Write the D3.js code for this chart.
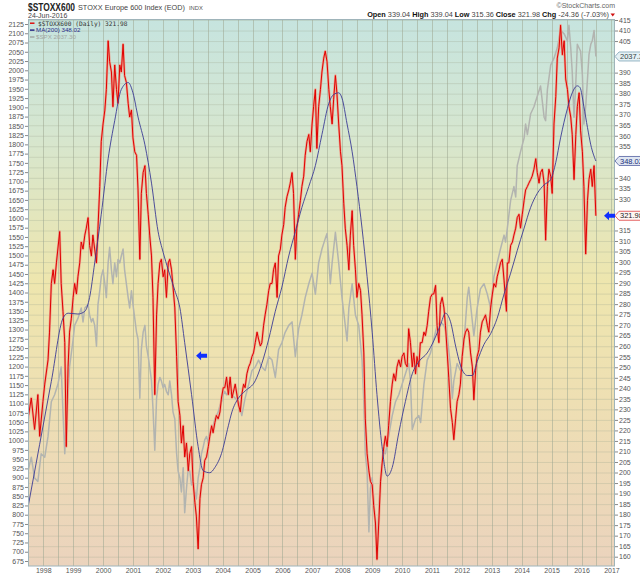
<!DOCTYPE html>
<html>
<head>
<meta charset="utf-8">
<style>
  body { margin: 0; background: #fff; }
  svg text { font-family: "Liberation Sans", Arial, sans-serif; }
</style>
</head>
<body>
<script src="https://d3js.org/d3.v7.min.js"></script>
<svg id="chart" width="640" height="576"></svg>
<script>
// $STOXX600 closes [decimal year, value] (right axis)
const stoxx = [
  [1997.49,225.5],[1997.60,235.4],[1997.71,220.5],[1997.82,237.0],[1997.88,217.2],[1997.99,233.7],[1998.05,242.0],[1998.16,253.5],
  [1998.21,266.7],[1998.27,289.8],[1998.33,296.3],[1998.38,289.8],[1998.44,299.6],[1998.55,314.5],[1998.60,289.8],[1998.66,276.6],
  [1998.72,261.7],[1998.77,212.3],[1998.83,250.2],[1998.88,266.7],[1998.94,273.3],[1999.00,283.2],[1999.05,289.8],[1999.11,284.8],
  [1999.16,293.0],[1999.22,299.6],[1999.27,309.5],[1999.33,306.2],[1999.39,312.8],[1999.44,316.1],[1999.50,321.1],[1999.55,307.9],
  [1999.61,302.9],[1999.66,312.8],[1999.72,306.2],[1999.78,299.6],[1999.83,316.1],[1999.89,335.9],[1999.94,357.3],[2000.00,365.6],
  [2000.06,372.2],[2000.11,382.0],[2000.17,405.1],[2000.22,395.2],[2000.28,390.3],[2000.33,373.8],[2000.39,393.6],[2000.45,382.0],
  [2000.50,375.4],[2000.56,393.6],[2000.61,390.3],[2000.67,403.5],[2000.72,388.6],[2000.78,385.3],[2000.84,375.4],[2000.89,368.9],
  [2000.95,372.2],[2001.00,359.0],[2001.06,352.4],[2001.12,350.7],[2001.17,334.2],[2001.23,301.3],[2001.28,332.6],[2001.34,342.5],
  [2001.40,345.8],[2001.45,332.6],[2001.51,322.7],[2001.56,312.8],[2001.62,302.9],[2001.67,283.2],[2001.73,237.0],[2001.79,274.9],
  [2001.84,289.8],[2001.90,299.6],[2001.95,301.3],[2002.01,293.0],[2002.06,296.3],[2002.12,283.2],[2002.18,299.6],[2002.23,301.3],
  [2002.29,296.3],[2002.34,288.1],[2002.40,278.2],[2002.46,255.1],[2002.51,233.7],[2002.57,227.1],[2002.62,214.0],[2002.68,222.2],
  [2002.73,207.4],[2002.79,214.0],[2002.85,200.8],[2002.90,209.0],[2002.96,212.3],[2003.01,195.8],[2003.07,185.9],[2003.12,179.3],
  [2003.18,163.7],[2003.24,187.6],[2003.29,194.2],[2003.35,197.5],[2003.40,205.7],[2003.46,207.4],[2003.52,212.3],[2003.57,217.2],
  [2003.63,222.2],[2003.68,218.9],[2003.74,223.8],[2003.79,227.1],[2003.85,225.5],[2003.91,228.8],[2003.96,235.4],[2004.02,240.3],
  [2004.07,240.3],[2004.13,245.3],[2004.19,237.0],[2004.25,245.3],[2004.31,235.4],[2004.42,242.0],[2004.53,232.1],[2004.59,228.8],
  [2004.64,237.0],[2004.70,242.0],[2004.75,240.3],[2004.81,246.9],[2004.87,250.2],[2004.92,251.8],[2004.98,255.1],[2005.03,256.8],
  [2005.09,261.7],[2005.15,266.7],[2005.20,263.4],[2005.26,260.1],[2005.31,261.7],[2005.37,270.0],[2005.42,274.9],[2005.48,279.9],
  [2005.54,286.5],[2005.59,289.8],[2005.65,289.8],[2005.70,296.3],[2005.76,299.6],[2005.82,283.2],[2005.87,302.9],[2005.93,306.2],
  [2005.98,312.8],[2006.04,317.8],[2006.09,326.0],[2006.15,331.0],[2006.21,334.2],[2006.26,337.5],[2006.32,342.5],[2006.37,332.6],
  [2006.43,301.3],[2006.48,316.1],[2006.54,322.7],[2006.60,329.3],[2006.65,335.9],[2006.71,340.8],[2006.76,350.7],[2006.82,357.3],
  [2006.88,360.6],[2006.93,352.4],[2006.99,365.6],[2007.04,373.8],[2007.10,382.0],[2007.15,354.0],[2007.21,373.8],[2007.27,382.0],
  [2007.32,390.3],[2007.38,396.9],[2007.43,400.2],[2007.49,395.2],[2007.55,382.0],[2007.60,373.8],[2007.66,365.6],[2007.71,377.1],
  [2007.77,388.6],[2007.82,380.4],[2007.88,365.6],[2007.94,352.4],[2007.99,345.8],[2008.05,327.7],[2008.10,316.1],[2008.16,307.9],
  [2008.22,296.3],[2008.27,312.8],[2008.33,324.4],[2008.38,307.9],[2008.44,296.3],[2008.49,283.2],[2008.55,289.8],[2008.61,286.5],
  [2008.66,274.9],[2008.72,256.8],[2008.77,225.5],[2008.83,209.0],[2008.89,200.8],[2008.94,195.8],[2009.00,194.2],[2009.05,184.3],
  [2009.11,176.0],[2009.16,158.7],[2009.22,176.0],[2009.28,195.8],[2009.33,204.1],[2009.39,212.3],[2009.44,217.2],[2009.50,212.3],
  [2009.55,222.2],[2009.61,233.7],[2009.67,242.0],[2009.72,246.9],[2009.78,243.6],[2009.83,250.2],[2009.89,253.5],[2009.95,250.2],
  [2010.00,255.1],[2010.06,256.8],[2010.11,251.8],[2010.17,250.2],[2010.22,268.3],[2010.28,261.7],[2010.34,250.2],[2010.39,256.8],
  [2010.45,246.9],[2010.50,255.1],[2010.56,250.2],[2010.61,261.7],[2010.67,261.7],[2010.73,266.7],[2010.78,265.0],[2010.84,270.0],
  [2010.89,276.6],[2010.95,283.2],[2011.01,284.8],[2011.06,284.8],[2011.12,288.9],[2011.17,270.0],[2011.23,261.7],[2011.28,279.9],
  [2011.34,283.2],[2011.40,278.2],[2011.45,270.0],[2011.51,256.8],[2011.56,245.3],[2011.62,230.4],[2011.68,223.8],[2011.73,215.6],
  [2011.79,225.5],[2011.84,233.7],[2011.90,237.0],[2011.95,242.0],[2012.01,255.1],[2012.07,263.4],[2012.12,266.7],[2012.18,268.3],
  [2012.23,266.7],[2012.29,256.8],[2012.35,250.2],[2012.40,234.5],[2012.46,248.6],[2012.51,255.1],[2012.57,258.4],[2012.62,266.7],
  [2012.68,271.6],[2012.74,273.3],[2012.79,274.9],[2012.85,270.0],[2012.90,266.7],[2012.96,278.2],[2013.02,284.8],[2013.07,289.8],
  [2013.13,288.1],[2013.18,293.0],[2013.24,296.3],[2013.29,299.6],[2013.35,301.3],[2013.41,291.4],[2013.49,276.6],[2013.52,299.6],
  [2013.57,299.6],[2013.63,307.9],[2013.69,309.5],[2013.74,312.8],[2013.80,316.1],[2013.85,321.1],[2013.91,322.7],[2013.96,316.1],
  [2014.02,322.7],[2014.08,329.3],[2014.13,334.2],[2014.19,335.9],[2014.24,337.5],[2014.30,339.2],[2014.35,340.8],[2014.41,344.1],
  [2014.47,349.1],[2014.52,342.5],[2014.58,337.5],[2014.63,342.5],[2014.69,344.1],[2014.75,337.5],[2014.80,310.4],[2014.86,335.9],
  [2014.91,344.1],[2014.97,340.8],[2015.02,332.6],[2015.08,365.6],[2015.14,378.7],[2015.19,396.9],[2015.25,401.8],[2015.30,412.5],
  [2015.36,398.5],[2015.42,405.1],[2015.47,387.0],[2015.53,382.0],[2015.58,373.8],[2015.64,368.9],[2015.69,360.6],[2015.75,339.2],
  [2015.81,360.6],[2015.86,373.8],[2015.92,380.4],[2015.97,362.3],[2016.03,352.4],[2016.08,335.9],[2016.14,303.8],[2016.20,329.3],
  [2016.25,339.2],[2016.31,344.1],[2016.36,335.9],[2016.42,345.8],[2016.48,321.98]
];

// MA(200) of $STOXX600 (right axis)
const ma200 = [
  [1997.49,183.5],[1997.88,213.4],[1998.27,243.3],[1998.66,273.3],[1998.83,275.7],[1999.16,275.3],[1999.39,276.6],[1999.55,283.2],
  [1999.72,299.6],[1999.94,322.7],[2000.17,349.1],[2000.39,367.2],[2000.61,382.0],[2000.84,385.3],[2001.00,380.4],[2001.17,368.9],
  [2001.40,355.7],[2001.62,337.5],[2001.84,314.5],[2002.01,304.6],[2002.18,296.3],[2002.40,286.5],[2002.57,278.2],[2002.73,261.7],
  [2002.96,237.0],[2003.18,212.3],[2003.35,200.8],[2003.57,199.9],[2003.74,202.4],[2003.96,209.0],[2004.19,222.2],[2004.31,228.8],
  [2004.53,235.4],[2004.75,238.7],[2005.09,243.6],[2005.31,251.8],[2005.54,263.4],[2005.76,276.6],[2005.98,288.1],[2006.21,302.9],
  [2006.43,314.5],[2006.65,326.0],[2006.88,335.9],[2007.10,345.8],[2007.32,360.6],[2007.55,375.4],[2007.71,379.6],[2007.88,380.4],
  [2007.99,377.9],[2008.16,365.6],[2008.33,352.4],[2008.49,335.9],[2008.66,316.1],[2008.83,293.0],[2009.00,266.7],[2009.16,237.0],
  [2009.33,212.3],[2009.50,198.3],[2009.67,202.4],[2009.89,218.9],[2010.11,233.7],[2010.34,246.9],[2010.56,252.7],[2010.84,256.8],
  [2011.06,262.6],[2011.28,270.0],[2011.45,275.7],[2011.62,271.6],[2011.79,260.1],[2011.95,251.0],[2012.18,246.1],[2012.35,246.1],
  [2012.51,252.7],[2012.74,260.9],[2012.96,265.9],[2013.18,273.3],[2013.41,284.8],[2013.63,294.7],[2013.85,305.4],[2014.08,316.1],
  [2014.30,326.0],[2014.52,332.6],[2014.75,336.7],[2014.97,339.2],[2015.14,347.4],[2015.30,359.0],[2015.53,373.0],[2015.69,380.4],
  [2015.86,383.7],[2015.95,382.9],[2016.08,373.8],[2016.20,363.9],[2016.31,355.7],[2016.48,348.02]
];

// $SPX overlay (left axis)
const spx = [
  [1997.49,917.7],[1997.60,955.2],[1997.71,899.0],[1997.82,889.6],[1997.93,964.6],[1998.05,955.2],[1998.16,1011.4],[1998.27,1105.1],
  [1998.38,1123.8],[1998.49,1152.0],[1998.60,1198.8],[1998.66,1077.0],[1998.72,964.6],[1998.77,1058.3],[1998.83,1123.8],[1998.88,1198.8],
  [1998.94,1236.3],[1999.00,1273.8],[1999.05,1311.2],[1999.16,1330.0],[1999.27,1358.1],[1999.33,1320.6],[1999.39,1358.1],[1999.50,1367.5],
  [1999.55,1339.4],[1999.61,1320.6],[1999.66,1330.0],[1999.72,1311.2],[1999.78,1255.0],[1999.83,1367.5],[1999.89,1404.9],[1999.94,1442.4],
  [2000.00,1461.2],[2000.06,1423.7],[2000.11,1386.2],[2000.17,1479.9],[2000.22,1522.1],[2000.28,1461.2],[2000.33,1423.7],[2000.39,1479.9],
  [2000.45,1442.4],[2000.50,1489.3],[2000.56,1479.9],[2000.61,1498.6],[2000.67,1517.4],[2000.72,1461.2],[2000.78,1423.7],[2000.84,1386.2],
  [2000.89,1358.1],[2000.95,1405.0],[2001.00,1367.5],[2001.06,1330.0],[2001.12,1292.5],[2001.17,1273.8],[2001.23,1114.5],[2001.28,1245.7],
  [2001.34,1292.5],[2001.40,1311.2],[2001.45,1255.0],[2001.51,1226.9],[2001.56,1198.8],[2001.62,1161.3],[2001.67,1086.4],[2001.73,973.9],
  [2001.79,1114.5],[2001.84,1152.0],[2001.90,1170.7],[2001.95,1161.3],[2002.01,1142.6],[2002.06,1152.0],[2002.12,1133.2],[2002.18,1123.8],
  [2002.23,1161.3],[2002.29,1123.8],[2002.34,1077.0],[2002.40,1058.3],[2002.46,964.6],[2002.51,917.7],[2002.57,899.0],[2002.62,861.5],
  [2002.68,927.1],[2002.73,805.3],[2002.79,870.9],[2002.85,927.1],[2002.90,917.7],[2002.96,880.3],[2003.01,889.6],[2003.07,861.5],
  [2003.12,842.7],[2003.18,899.0],[2003.24,927.1],[2003.29,964.6],[2003.35,983.3],[2003.40,1002.1],[2003.46,1011.4],[2003.52,992.7],
  [2003.57,1020.8],[2003.63,1030.1],[2003.68,1039.5],[2003.74,1058.3],[2003.79,1067.6],[2003.85,1077.0],[2003.91,1095.7],[2003.96,1105.1],
  [2004.02,1123.8],[2004.07,1133.2],[2004.13,1123.8],[2004.19,1133.2],[2004.31,1123.8],[2004.53,1105.1],[2004.64,1067.6],[2004.75,1114.5],
  [2004.87,1152.0],[2004.98,1189.4],[2005.09,1198.8],[2005.20,1217.5],[2005.31,1198.8],[2005.42,1189.4],[2005.54,1226.9],[2005.65,1217.5],
  [2005.76,1170.7],[2005.87,1245.7],[2005.98,1264.4],[2006.09,1292.5],[2006.21,1311.2],[2006.32,1320.6],[2006.43,1226.9],[2006.54,1301.9],
  [2006.65,1339.4],[2006.76,1386.2],[2006.88,1423.7],[2006.99,1451.8],[2007.10,1395.6],[2007.21,1479.9],[2007.32,1517.4],[2007.43,1545.5],
  [2007.49,1559.5],[2007.60,1423.7],[2007.66,1479.9],[2007.77,1562.4],[2007.88,1479.9],[2007.99,1386.2],[2008.10,1311.2],[2008.16,1269.1],
  [2008.22,1358.1],[2008.33,1423.7],[2008.44,1339.4],[2008.55,1311.2],[2008.66,1217.5],[2008.72,1105.1],[2008.77,964.6],[2008.83,917.7],
  [2008.89,753.7],[2008.94,870.9],[2009.00,900.0],[2009.05,840.0],[2009.11,760.0],[2009.16,683.5],[2009.22,805.3],[2009.28,889.6],
  [2009.33,917.7],[2009.39,973.9],[2009.44,964.6],[2009.55,1011.4],[2009.67,1067.6],[2009.78,1105.1],[2009.89,1123.8],[2010.00,1152.0],
  [2010.11,1180.1],[2010.22,1208.2],[2010.28,1161.3],[2010.34,1030.1],[2010.45,1058.3],[2010.56,1067.6],[2010.62,1049.0],[2010.73,1152.0],
  [2010.84,1217.5],[2010.95,1236.3],[2011.06,1273.8],[2011.17,1311.2],[2011.28,1320.6],[2011.40,1311.2],[2011.51,1283.1],[2011.62,1198.8],
  [2011.68,1114.5],[2011.73,1161.3],[2011.84,1208.2],[2011.95,1189.4],[2012.07,1264.4],[2012.18,1386.2],[2012.23,1414.3],[2012.29,1367.5],
  [2012.40,1283.1],[2012.51,1358.1],[2012.62,1409.6],[2012.74,1423.7],[2012.85,1395.6],[2012.96,1358.1],[2013.07,1442.4],[2013.18,1479.9],
  [2013.29,1517.4],[2013.41,1554.9],[2013.46,1536.1],[2013.52,1573.6],[2013.63,1648.6],[2013.74,1686.0],[2013.80,1657.9],[2013.85,1742.3],
  [2013.96,1779.7],[2014.08,1817.2],[2014.13,1854.7],[2014.19,1826.6],[2014.30,1882.8],[2014.41,1901.6],[2014.52,1929.7],[2014.63,1957.8],
  [2014.75,1873.4],[2014.80,1864.1],[2014.86,1948.4],[2014.97,2014.0],[2015.08,2032.7],[2015.19,2060.8],[2015.30,2107.7],[2015.42,2098.3],
  [2015.53,2079.6],[2015.58,2121.7],[2015.64,2060.8],[2015.69,1995.3],[2015.75,1873.4],[2015.81,1967.1],[2015.86,2070.2],[2015.97,2051.5],
  [2016.03,1985.9],[2016.08,1854.7],[2016.14,1901.6],[2016.20,1976.5],[2016.25,2042.1],[2016.31,2070.2],[2016.36,2079.6],[2016.42,2107.7],
  [2016.48,2037.30]
];

const years = [1998,1999,2000,2001,2002,2003,2004,2005,2006,2007,2008,2009,2010,2011,2012,2013,2014,2015,2016,2017];
const leftTicks = d3.range(675, 2126, 25);
const rightTicks = d3.range(160, 416, 5);
const quoteLabels = ['Open', 'High', 'Low', 'Close', 'Chg'];
const quoteValues = ['339.04', '339.04', '315.36', '321.98', '-24.36 (-7.03%)'];
const lastClose = 321.98, lastMA = 348.02, lastSPX = 2037.30;
const note = { year: 2003.11, value: 255.5 }; // hand-drawn blue arrow

const svg = d3.select('#chart');
const plot = { left: 28, right: 615, top: 19.5, bottom: 566 };

const x = d3.scaleLinear().domain([1997.49, 2017.12]).range([plot.left, plot.right]);
const yR = d3.scaleLinear().domain([160, 415]).range([556.7, 20]);
const yL = d3.scaleLinear().domain([675, 2125]).range([561, 24]);

svg.append('rect').attr('width', 640).attr('height', 576).attr('fill', '#fff');

const defs = svg.append('defs');
const grad = defs.append('linearGradient').attr('id', 'bg')
  .attr('x1', 0).attr('y1', 0).attr('x2', 0).attr('y2', 1);
[[0, '#c6e4df'], [0.2, '#d5e6d0'], [0.48, '#eee6ae'], [0.7, '#eedfb3'], [1, '#ebd3bd']]
  .forEach(([o, c]) => grad.append('stop').attr('offset', o).attr('stop-color', c));
defs.append('clipPath').attr('id', 'clip').append('rect')
  .attr('x', plot.left).attr('y', plot.top)
  .attr('width', plot.right - plot.left).attr('height', plot.bottom - plot.top);

svg.append('rect')
  .attr('x', plot.left).attr('y', plot.top)
  .attr('width', plot.right - plot.left).attr('height', plot.bottom - plot.top)
  .attr('fill', 'url(#bg)');

// grid
const grid = svg.append('g').attr('clip-path', 'url(#clip)');
grid.selectAll('line.h').data(rightTicks).enter().append('line')
  .attr('x1', plot.left).attr('x2', plot.right)
  .attr('y1', (d) => yR(d) + 0.5).attr('y2', (d) => yR(d) + 0.5)
  .attr('stroke', '#9ea892').attr('stroke-opacity', 0.3);
grid.selectAll('line.v').data(d3.range(1998, 2017.1, 0.5)).enter().append('line')
  .attr('x1', (d) => Math.round(x(d)) + 0.5).attr('x2', (d) => Math.round(x(d)) + 0.5)
  .attr('y1', plot.top).attr('y2', plot.bottom)
  .attr('stroke', '#9ea892').attr('stroke-opacity', 0.55);

// series
const series = svg.append('g').attr('clip-path', 'url(#clip)');
const lineOn = (yScale) => d3.line().x((d) => x(d[0])).y((d) => yScale(d[1]));

series.append('path').datum(spx).attr('d', lineOn(yL))
  .attr('fill', 'none').attr('stroke', '#b2b4b0').attr('stroke-width', 1.5)
  .attr('stroke-linejoin', 'round');
series.append('path').datum(stoxx).attr('d', lineOn(yR))
  .attr('fill', 'none').attr('stroke', '#ec9f8a').attr('stroke-width', 2.4)
  .attr('stroke-opacity', 0.9).attr('stroke-linejoin', 'round');
series.append('path').datum(stoxx).attr('d', lineOn(yR))
  .attr('fill', 'none').attr('stroke', '#e00000').attr('stroke-width', 1);
series.append('path').datum(ma200).attr('d', d3.line().curve(d3.curveMonotoneX).x((d) => x(d[0])).y((d) => yR(d[1])))
  .attr('fill', 'none').attr('stroke', '#3b3b95').attr('stroke-width', 0.9);

// border
svg.append('rect')
  .attr('x', plot.left + 0.5).attr('y', plot.top)
  .attr('width', plot.right - plot.left - 1).attr('height', plot.bottom - plot.top)
  .attr('fill', 'none').attr('stroke', '#9fb4ba');

// axes; right-axis labels hidden under the value tags are dropped
const tagValues = [yL(lastSPX), yR(lastMA), yR(lastClose)];
const styleAxis = (g) => {
  g.select('.domain').remove();
  g.selectAll('line').attr('stroke', '#888');
  g.attr('font-family', '"Liberation Sans", Arial, sans-serif').attr('font-size', 7);
  g.selectAll('text').attr('fill', '#555');
};
svg.append('g').attr('transform', `translate(${plot.left},0)`)
  .call(d3.axisLeft(yL).tickValues(leftTicks).tickFormat(d3.format('d')).tickSize(3).tickPadding(1))
  .call(styleAxis);
svg.append('g').attr('transform', `translate(${plot.right},0)`)
  .call(d3.axisRight(yR).tickValues(rightTicks.filter((v) => tagValues.every((ty) => Math.abs(yR(v) - ty) > 7)))
    .tickSize(3).tickPadding(1))
  .call(styleAxis);
svg.append('g').attr('transform', `translate(0,${plot.bottom})`)
  .call(d3.axisBottom(x).tickValues(years).tickFormat(d3.format('d')).tickSize(0).tickPadding(2.5))
  .call(styleAxis);

// header
svg.append('text').attr('transform', 'translate(28,10.5) scale(0.8,1)')
  .attr('font-size', 10.5).attr('font-weight', 'bold').attr('fill', '#222').text('$STOXX600');
const sub = svg.append('text').attr('x', 78).attr('y', 9.5).attr('font-size', 7.3).attr('fill', '#444')
  .text('STOXX Europe 600 Index (EOD)');
svg.append('text').attr('x', 78 + sub.node().getComputedTextLength() + 4).attr('y', 9.5)
  .attr('font-size', 5.8).attr('fill', '#555').text('INDX');
svg.append('text').attr('x', 28).attr('y', 17.5).attr('font-size', 7).attr('fill', '#444').text('24-Jun-2016');
svg.append('text').attr('x', 615).attr('y', 8).attr('text-anchor', 'end')
  .attr('font-size', 7).attr('fill', '#666').text('\u00a9StockCharts.com');

const quote = svg.append('text').attr('x', 609).attr('y', 17).attr('text-anchor', 'end').attr('font-size', 7.3);
quoteLabels.forEach((lab, i) => {
  quote.append('tspan').attr('font-weight', 'bold').attr('fill', '#111').text((i ? '  ' : '') + lab + ' ');
  quote.append('tspan').attr('fill', '#444').text(quoteValues[i]);
});
svg.append('path').attr('d', 'M610.5,13.5 L615,13.5 L612.75,16.5 Z').attr('fill', '#d01010');

// legend
const legend = [
  { text: '$STOXX600 (Daily) ' + lastClose.toFixed(2), color: '#e00000', textColor: '#333', mono: true },
  { text: 'MA(200) ' + lastMA.toFixed(2), color: '#1c1c80', textColor: '#2a2a8a', mono: false },
  { text: '$SPX ' + lastSPX.toFixed(2), color: '#a0a3a0', textColor: '#a3a6a3', mono: false }
];
const lg = svg.append('g').selectAll('g').data(legend).enter().append('g')
  .attr('transform', (_, i) => `translate(30,${25.5 + i * 6.9})`);
lg.append('line').attr('x1', 0).attr('x2', 4.5).attr('y1', -2.3).attr('y2', -2.3)
  .attr('stroke', (d) => d.color).attr('stroke-width', 1.4);
lg.append('text').attr('x', (d) => (d.mono ? 8 : 6)).attr('y', 0)
  .attr('font-size', 6.2)
  .style('font-family', (d) => (d.mono ? '"DejaVu Sans Mono", monospace' : null))
  .attr('fill', (d) => d.textColor).text((d) => d.text);

// right-edge value tags (cut by the page edge, as in the source)
const tag = (y, label, fill, stroke, color) => {
  const g = svg.append('g').attr('transform', `translate(${plot.right},${y})`);
  g.append('path').attr('d', 'M0,0 L4,-4.5 L30,-4.5 L30,4.5 L4,4.5 Z')
    .attr('fill', fill).attr('stroke', stroke).attr('stroke-width', 0.8);
  g.append('text').attr('x', 5).attr('y', 2.7).attr('font-size', 7.5).attr('fill', color).text(label);
};
tag(yL(lastSPX), lastSPX.toFixed(2), '#e6f2f6', '#7fa3b5', '#344');
tag(yR(lastMA), lastMA.toFixed(2), '#dfe6f2', '#5060a0', '#22307a');
tag(yR(lastClose), lastClose.toFixed(2), '#fff6f4', '#e04040', '#222');

// blue arrows
const arrow = (tx, ty) => svg.append('path')
  .attr('d', `M${tx},${ty} L${tx + 5},${ty - 4.5} L${tx + 5},${ty - 2} L${tx + 11},${ty - 2} L${tx + 11},${ty + 2} L${tx + 5},${ty + 2} L${tx + 5},${ty + 4.5} Z`)
  .attr('fill', '#1030ff');
arrow(x(note.year), yR(note.value));
arrow(plot.right - 11, yR(lastClose));
</script>
</body>
</html>
